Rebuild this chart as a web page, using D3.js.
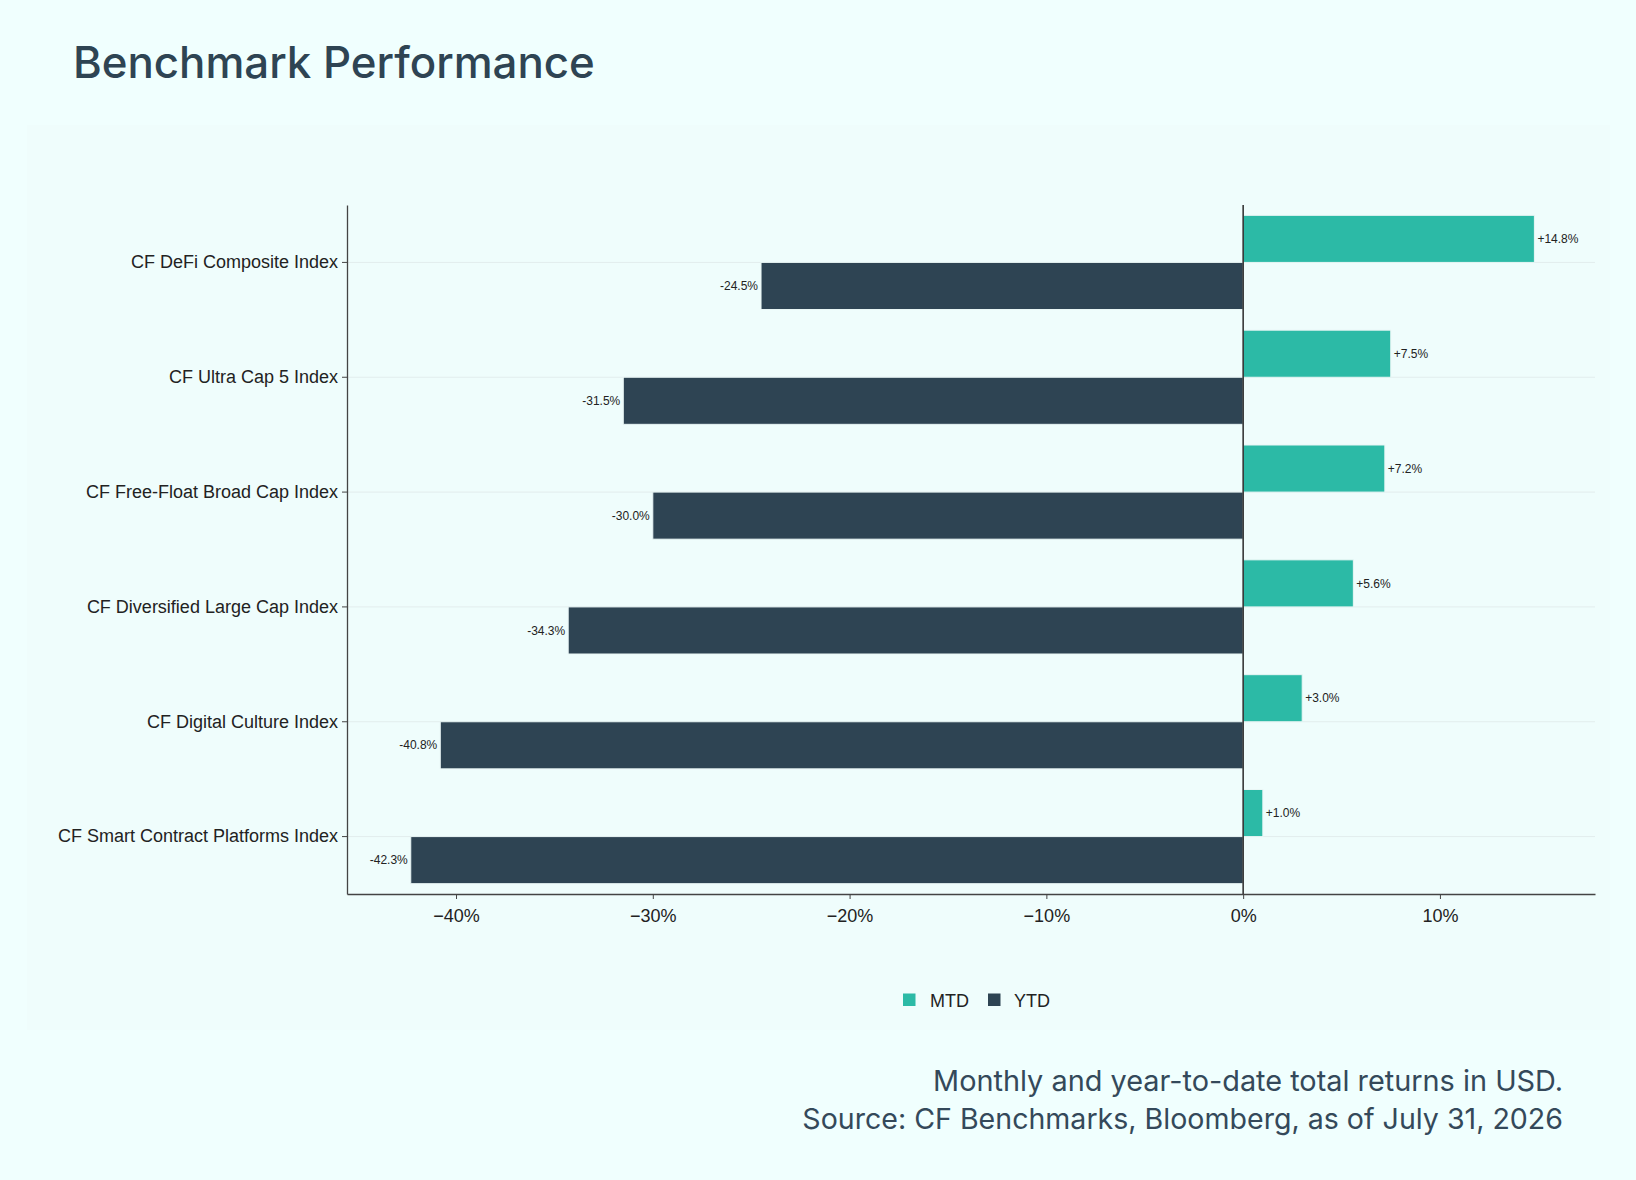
<!DOCTYPE html>
<html>
<head>
<meta charset="utf-8">
<script src="https://cdn.jsdelivr.net/npm/d3@7"></script>
<style>
  html, body { margin: 0; padding: 0; background: #f0fffe; }
  svg { display: block; }
</style>
</head>
<body>
<script>
// ---- data ----
const categories = [
  "CF DeFi Composite Index",
  "CF Ultra Cap 5 Index",
  "CF Free-Float Broad Cap Index",
  "CF Diversified Large Cap Index",
  "CF Digital Culture Index",
  "CF Smart Contract Platforms Index"
];
const mtdValues = [14.8, 7.5, 7.2, 5.6, 3.0, 1.0];
const ytdValues = [-24.5, -31.5, -30.0, -34.3, -40.8, -42.3];
const tickValues = [-40, -30, -20, -10, 0, 10];
const seriesNames = ["MTD", "YTD"];
const titleText = "Benchmark Performance";
const captionLines = [
  "Monthly and year-to-date total returns in USD.",
  "Source: CF Benchmarks, Bloomberg, as of July 31, 2026"
];

// ---- styles ----
const W = 1636, H = 1180;
const colors = { MTD: "#2cbaa6", YTD: "#2e4453" };
const inkDark = "#2e4453";
const axisFont = "'Liberation Sans', Arial, Helvetica, sans-serif";
const titleFont = "Inter, 'Noto Sans', sans-serif";

const svg = d3.select("body").append("svg")
  .attr("width", W).attr("height", H);

svg.append("rect").attr("width", W).attr("height", H).attr("fill", "#f0fffe");
svg.append("rect").attr("x", 27).attr("y", 125).attr("width", 1583).attr("height", 905)
  .attr("fill", "#effdfc");

const plot = { left: 347, right: 1595, top: 205, bottom: 894 };

const x = d3.scaleLinear().domain([-45.54, 17.88]).range([plot.left, plot.right]);
const y = d3.scaleBand().domain(categories).range([plot.top, plot.bottom]).paddingInner(0).paddingOuter(0);
const groupFrac = 0.82;
const barH = y.bandwidth() * groupFrac / 2;
const center = c => y(c) + y.bandwidth() / 2;

// gridlines at category centers
svg.append("g").selectAll("line").data(categories).join("line")
  .attr("x1", plot.left).attr("x2", plot.right)
  .attr("y1", d => center(d)).attr("y2", d => center(d))
  .attr("stroke", "#e2eded").attr("stroke-width", 1);

// bars
const rows = categories.map((c, i) => ({ c, mtd: mtdValues[i], ytd: ytdValues[i] }));

const barG = svg.append("g");
barG.selectAll("rect.mtd").data(rows).join("rect").attr("class", "mtd")
  .attr("x", d => x(Math.min(0, d.mtd)))
  .attr("width", d => Math.abs(x(d.mtd) - x(0)))
  .attr("y", d => center(d.c) - barH)
  .attr("height", barH)
  .attr("fill", colors.MTD)
  .attr("stroke", "#e9f6f5").attr("stroke-width", 1);

barG.selectAll("rect.ytd").data(rows).join("rect").attr("class", "ytd")
  .attr("x", d => x(Math.min(0, d.ytd)))
  .attr("width", d => Math.abs(x(d.ytd) - x(0)))
  .attr("y", d => center(d.c))
  .attr("height", barH)
  .attr("fill", colors.YTD)
  .attr("stroke", "#e9f6f5").attr("stroke-width", 1);

// value labels
const fmt = v => (v > 0 ? "+" : "") + v.toFixed(1) + "%";
svg.append("g").selectAll("text").data(rows).join("text")
  .attr("x", d => x(d.mtd) + (d.mtd >= 0 ? 3 : -3))
  .attr("y", d => center(d.c) - barH / 2)
  .attr("dy", "0.35em")
  .attr("text-anchor", d => d.mtd >= 0 ? "start" : "end")
  .attr("font-family", axisFont).attr("font-size", 12).attr("fill", "#222")
  .text(d => fmt(d.mtd));
svg.append("g").selectAll("text").data(rows).join("text")
  .attr("x", d => x(d.ytd) + (d.ytd >= 0 ? 3 : -3))
  .attr("y", d => center(d.c) + barH / 2)
  .attr("dy", "0.35em")
  .attr("text-anchor", d => d.ytd >= 0 ? "start" : "end")
  .attr("font-family", axisFont).attr("font-size", 12).attr("fill", "#222")
  .text(d => fmt(d.ytd));

// zero line
svg.append("line")
  .attr("x1", x(0)).attr("x2", x(0))
  .attr("y1", plot.top).attr("y2", plot.bottom)
  .attr("stroke", "#2a2a2a").attr("stroke-width", 1.5);

// x axis
const xAxis = d3.axisBottom(x).tickValues(tickValues).tickSize(5).tickSizeOuter(0)
  .tickFormat(d => (d < 0 ? "\u2212" + Math.abs(d) : d) + "%");
const gx = svg.append("g").attr("transform", `translate(0,${plot.bottom})`).call(xAxis);
gx.select(".domain").attr("stroke", "#444").attr("stroke-width", 1.3);
gx.selectAll(".tick line").attr("stroke", "#444");
gx.selectAll(".tick text").attr("font-family", axisFont).attr("font-size", 18)
  .attr("fill", "#222").attr("dy", null).attr("y", 28);

// y axis
const yAxis = d3.axisLeft(y).tickSize(5).tickSizeOuter(0).tickPadding(4);
const gy = svg.append("g").attr("transform", `translate(${plot.left},0)`).call(yAxis);
gy.select(".domain").attr("stroke", "#444").attr("stroke-width", 1.3);
gy.selectAll(".tick line").attr("stroke", "#444");
gy.selectAll(".tick text").attr("font-family", axisFont).attr("font-size", 18).attr("fill", "#222");

// legend
const legendPos = [{ sx: 903, tx: 930 }, { sx: 988, tx: 1014 }];
const lg = svg.append("g");
seriesNames.forEach((s, i) => {
  lg.append("rect").attr("x", legendPos[i].sx).attr("y", 993.5)
    .attr("width", 12.5).attr("height", 12.5).attr("fill", colors[s]);
  lg.append("text").attr("x", legendPos[i].tx).attr("y", 1006.5)
    .attr("font-family", axisFont).attr("font-size", 18).attr("fill", "#222").text(s);
});

// fit helper
function fitWidth(sel, target) {
  const fs = +sel.attr("font-size");
  const w = sel.node().getComputedTextLength();
  if (w > 0) sel.attr("font-size", fs * target / w);
}

// title
const title = svg.append("text").attr("x", 73).attr("y", 77.5)
  .attr("font-family", titleFont).attr("font-weight", 500).attr("font-size", 44)
  .attr("fill", inkDark).text(titleText);
fitWidth(title, 522);

// caption
const capBase = [1091, 1129];
captionLines.forEach((t, i) => {
  const c = svg.append("text").attr("x", 1563).attr("y", capBase[i])
    .attr("text-anchor", "end")
    .attr("font-family", titleFont).attr("font-weight", 400).attr("font-size", 26)
    .attr("fill", "#34495a").text(t);
  if (i === 1) fitWidth(c, 761);
  else fitWidth(c, 1563 - 933);
});
</script>
</body>
</html>
